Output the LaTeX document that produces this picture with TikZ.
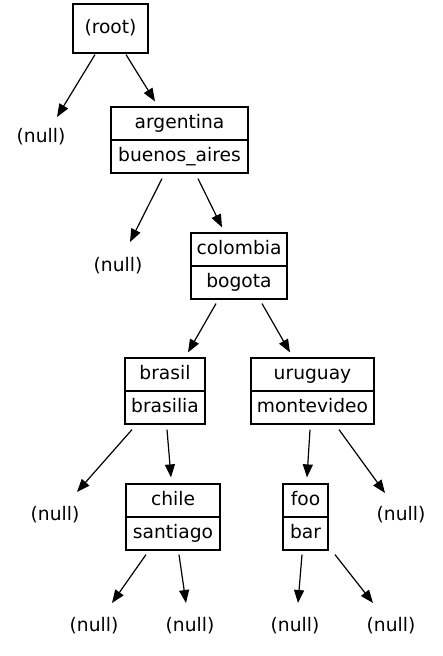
\documentclass[tikz,border=0pt]{standalone}
\usepackage{fontspec}
\setmainfont{DejaVu Sans}
\usetikzlibrary{arrows.meta}
\begin{document}
\begin{tikzpicture}[x=1pt,y=-1pt,
  every node/.style={font=\fontsize{18.67}{22}\selectfont, inner sep=0pt, text height=15.2pt, text depth=5pt},
  cell/.style={draw, line width=1.2pt, minimum height=33pt, anchor=center},
  nul/.style={},
  arr/.style={line width=1.2pt, -{Triangle[length=13pt,width=10pt]}}]
\useasboundingbox (0,0) rectangle (443,656);
% root
\node[cell, minimum width=75pt, minimum height=49pt] (root) at (110.5,28.5) {(root)};
\node[nul] (n1) at (41,137.5) {(null)};
% argentina
\node[cell, minimum width=137pt] (arg) at (179.5,123.5) {argentina};
\node[cell, minimum width=137pt] (argv) at (179.5,156.5) {buenos\_aires};
\node[nul] (n2) at (118,266) {(null)};
% colombia
\node[cell, minimum width=96pt] (col) at (239,249.5) {colombia};
\node[cell, minimum width=96pt] (colv) at (239,282.5) {bogota};
% brasil
\node[cell, minimum width=80pt] (bra) at (165,374.5) {brasil};
\node[cell, minimum width=80pt] (brav) at (165,407.5) {brasilia};
% uruguay
\node[cell, minimum width=123pt] (uru) at (312.5,374.5) {uruguay};
\node[cell, minimum width=123pt] (uruv) at (312.5,407.5) {montevideo};
\node[nul] (n3) at (55,515) {(null)};
\node[nul] (n4) at (401,515) {(null)};
% chile
\node[cell, minimum width=94pt] (chi) at (173,500.5) {chile};
\node[cell, minimum width=94pt] (chiv) at (173,533.5) {santiago};
% foo
\node[cell, minimum width=45pt] (foo) at (305.5,500.5) {foo};
\node[cell, minimum width=45pt] (foov) at (305.5,533.5) {bar};
% bottom nulls
\node[nul] (n5) at (94,626) {(null)};
\node[nul] (n6) at (190,626) {(null)};
\node[nul] (n7) at (295,626) {(null)};
\node[nul] (n8) at (391,626) {(null)};
% edges
\draw[arr] ([xshift=-15.5pt,yshift=-1pt]root.south) -- ([xshift=16pt,yshift=20.5pt]n1.center);
\draw[arr] ([xshift=15.5pt,yshift=-1pt]root.south) -- ([xshift=-24.5pt,yshift=5pt]arg.north);
\draw[arr] ([xshift=-17.5pt,yshift=-5pt]argv.south) -- ([xshift=12pt,yshift=24pt]n2.center);
\draw[arr] ([xshift=18.5pt,yshift=-5pt]argv.south) -- ([xshift=-17pt,yshift=5pt]col.north);
\draw[arr] ([xshift=-23pt,yshift=-4pt]colv.south) -- ([xshift=23pt,yshift=5pt]bra.north);
\draw[arr] ([xshift=23pt,yshift=-4pt]colv.south) -- ([xshift=-22.5pt,yshift=5pt]uru.north);
\draw[arr] ([xshift=-33pt,yshift=-5pt]brav.south) -- ([xshift=22pt,yshift=23pt]n3.center);
\draw[arr] ([xshift=2pt,yshift=-5pt]brav.south) -- ([xshift=-2pt,yshift=6pt]chi.north);
\draw[arr] ([xshift=-2.5pt,yshift=-5pt]uruv.south) -- ([xshift=1.5pt,yshift=6pt]foo.north);
\draw[arr] ([xshift=26.5pt,yshift=-5pt]uruv.south) -- ([xshift=-16pt,yshift=22pt]n4.center);
\draw[arr] ([xshift=-27pt,yshift=-4pt]chiv.south) -- ([xshift=18pt,yshift=23pt]n5.center);
\draw[arr] ([xshift=6pt,yshift=-4pt]chiv.south) -- ([xshift=-4pt,yshift=23pt]n6.center);
\draw[arr] ([xshift=-3.5pt,yshift=-4pt]foov.south) -- ([xshift=3pt,yshift=23pt]n7.center);
\draw[arr] ([xshift=29.5pt,yshift=-4pt]foov.south) -- ([xshift=-18pt,yshift=23pt]n8.center);
\end{tikzpicture}
\end{document}
